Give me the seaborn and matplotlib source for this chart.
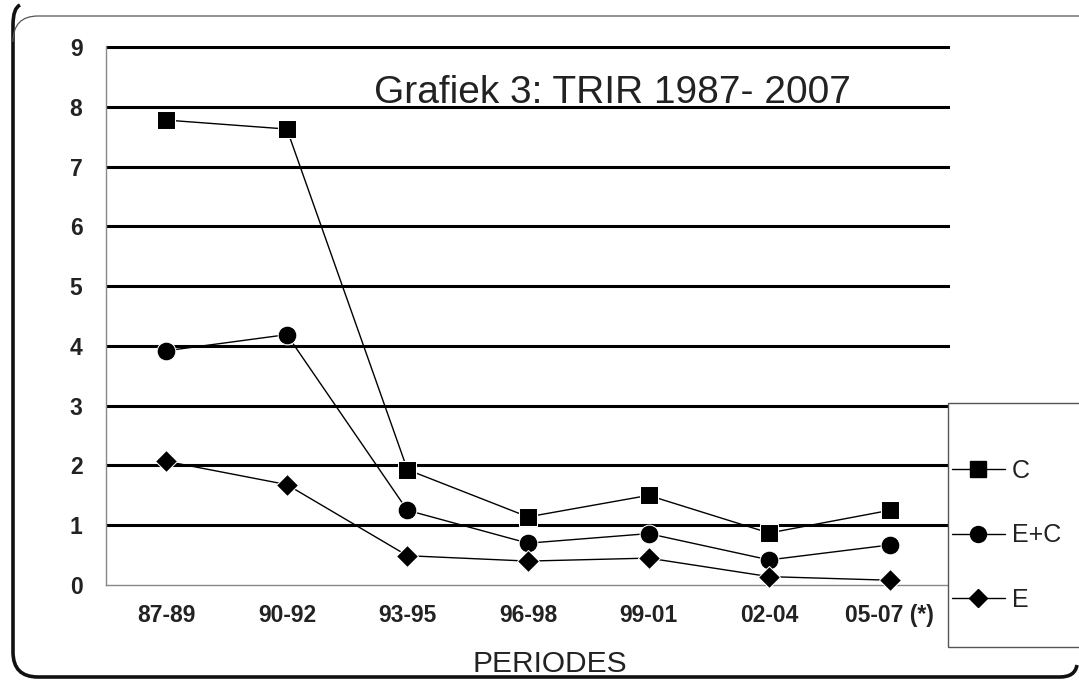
import matplotlib
matplotlib.use("Agg")
import matplotlib.pyplot as plt
import seaborn as sns
import pandas as pd
from matplotlib.path import Path
from matplotlib.patches import PathPatch, Rectangle
from matplotlib.lines import Line2D

periods = ["87-89", "90-92", "93-95", "96-98", "99-01", "02-04", "05-07 (*)"]
c_vals = [7.78, 7.63, 1.93, 1.14, 1.50, 0.87, 1.25]
ec_vals = [3.92, 4.19, 1.25, 0.70, 0.86, 0.42, 0.67]
e_vals = [2.07, 1.68, 0.49, 0.40, 0.45, 0.14, 0.08]
series_names = ["C", "E+C", "E"]
title_text = "Grafiek 3: TRIR 1987- 2007"
xlabel_text = "PERIODES"

sns.set_theme(style="white")
plt.rcParams["font.family"] = ["Liberation Sans", "DejaVu Sans"]

W, H = 1079, 680
fig = plt.figure(figsize=(W / 100, H / 100), dpi=100)
fig.patch.set_facecolor("white")

def fx(px):
    return px / W

def fy(py):
    return 1 - py / H

ax = fig.add_axes([fx(106), fy(585), fx(950) - fx(106), fy(46) - fy(585)])
ax.set_facecolor("white")

df_c = pd.DataFrame({"period": periods, "value": c_vals})
df_ec = pd.DataFrame({"period": periods, "value": ec_vals})
df_e = pd.DataFrame({"period": periods, "value": e_vals})

common = dict(x="period", y="value", color="black", linewidth=1.0, sort=False,
              ax=ax, zorder=5, legend=False, clip_on=False)
sns.lineplot(data=df_c, marker="s", markersize=13.5, **common)
sns.lineplot(data=df_ec, marker="o", markersize=13.5, **common)
sns.lineplot(data=df_e, marker="D", markersize=11.5, **common)

ax.set_xlim(-0.5, len(periods) - 0.5)
ax.set_ylim(0, 9.02)
ax.set_yticks(range(0, 10))
ax.set_xticks(range(len(periods)))
ax.set_xticklabels(periods)
ax.set_xlabel("")
ax.set_ylabel("")

for y in range(1, 10):
    ax.axhline(y, color="black", linewidth=2.2, zorder=1)

for s in ["top", "right"]:
    ax.spines[s].set_visible(False)
for s in ["left", "bottom"]:
    ax.spines[s].set_color("#888888")
    ax.spines[s].set_linewidth(1.0)

ax.tick_params(axis="y", which="major", direction="out", length=7, width=1,
               color="#888888", pad=10, labelsize=16.5)
ax.tick_params(axis="x", which="major", length=0, pad=14, labelsize=16.5)
ax.set_xticks([i + 0.5 for i in range(len(periods) - 1)], minor=True)
ax.tick_params(axis="x", which="minor", direction="in", length=7, width=1,
               color="#888888")
for lab in ax.get_xticklabels() + ax.get_yticklabels():
    lab.set_fontweight("bold")
    lab.set_color("#222222")

fig.text(fx(612), fy(103), title_text, fontsize=28, color="#222222",
         ha="center", va="baseline")
fig.text(fx(550), fy(672), xlabel_text, fontsize=21.5, color="#222222",
         ha="center", va="baseline")

# legend frame
fig.patches.append(Rectangle((fx(948), fy(647)), fx(1100) - fx(948), fy(403) - fy(647),
                             transform=fig.transFigure, facecolor="white",
                             edgecolor="#555555", linewidth=1.0, zorder=3))
handles = [
    Line2D([], [], color="black", marker="s", markersize=11, linewidth=1.0),
    Line2D([], [], color="black", marker="o", markersize=11.5, linewidth=1.0),
    Line2D([], [], color="black", marker="D", markersize=9, linewidth=1.0),
]
leg = fig.legend(handles, series_names, loc="upper left",
                 bbox_to_anchor=(fx(952), fy(459)), frameon=False, fontsize=18,
                 handlelength=2.1, handletextpad=0.3, labelspacing=1.62,
                 borderpad=0, borderaxespad=0)
for t in leg.get_texts():
    t.set_color("#222222")
leg.set_zorder(4)

# outer rounded frame
thick = Path(
    [(fx(20), fy(5)), (fx(13), fy(8)), (fx(13), fy(25)),
     (fx(13), fy(652)),
     (fx(13), fy(677)), (fx(38), fy(677)),
     (fx(1060), fy(677)),
     (fx(1075), fy(677)), (fx(1077), fy(665))],
    [Path.MOVETO, Path.CURVE3, Path.CURVE3, Path.LINETO,
     Path.CURVE3, Path.CURVE3, Path.LINETO, Path.CURVE3, Path.CURVE3])
fig.patches.append(PathPatch(thick, transform=fig.transFigure, fill=False,
                             edgecolor="#111111", linewidth=2.6, zorder=6))
thin = Path(
    [(fx(13), fy(42)), (fx(13), fy(16)), (fx(38), fy(16)), (fx(1080), fy(16))],
    [Path.MOVETO, Path.CURVE3, Path.CURVE3, Path.LINETO])
fig.patches.append(PathPatch(thin, transform=fig.transFigure, fill=False,
                             edgecolor="#555555", linewidth=0.9, zorder=6))

fig.savefig("out.png", dpi=100, facecolor="white")
